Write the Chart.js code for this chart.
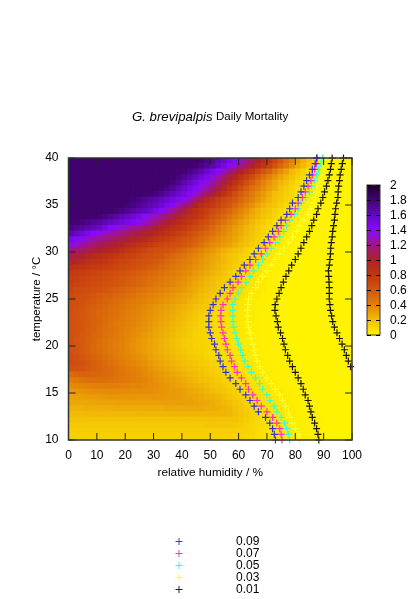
<!DOCTYPE html>
<html>
<head>
<meta charset="utf-8">
<title>G. brevipalpis Daily Mortality</title>
<script src="https://cdn.jsdelivr.net/npm/chart.js@4/dist/chart.umd.js"></script>
<style>
  html, body { margin: 0; padding: 0; background: #fff; }
  #wrap { width: 420px; height: 599px; position: relative; }
</style>
</head>
<body>
<div id="wrap"><canvas id="grafica" width="420" height="599"></canvas></div>
<script>
// heat map cell centres
const humidityCells = [1,3,5,7,9,11,13,15,17,19,21,23,25,27,29,31,33,35,37,39,41,43,45,47,49,51,53,55,57,59,61,63,65,67,69,71,73,75,77,79,81,83,85,87,89,91,93,95,97,99];
const temperatureCells = [39.7,39.1,38.5,37.9,37.3,36.7,36.1,35.5,34.9,34.3,33.7,33.1,32.5,31.9,31.3,30.7,30.1,29.5,28.9,28.3,27.7,27.1,26.5,25.9,25.3,24.7,24.1,23.5,22.9,22.3,21.7,21.1,20.5,19.9,19.3,18.7,18.1,17.5,16.9,16.3,15.7,15.1,14.5,13.9,13.3,12.7,12.1,11.5,10.9,10.3];

// mortality x100, one row per temperature, trailing zeros left out
const mortalityRows = [
[182,182,182,182,182,182,182,182,182,182,182,182,182,182,182,182,182,182,182,182,182,182,182,180,175,170,163,157,148,140,130,120,110,100,90,80,70,60,50,40,32,24,17,10,3],
[182,182,182,182,182,182,182,182,182,182,182,182,182,182,182,182,182,182,182,182,182,182,180,176,171,165,158,150,141,132,122,112,102,92,82,72,62,53,44,36,28,21,14,8,3],
[182,182,182,182,182,182,182,182,182,182,182,182,182,182,182,182,182,182,182,181,180,175,170,164,156,148,140,130,120,110,100,90,80,70,60,54,44,36,30,22,17,12,7,2],
[182,182,182,182,182,182,182,182,182,182,182,182,182,182,182,182,182,182,181,178,172,167,160,153,145,135,125,115,105,95,85,75,65,56,48,40,34,28,23,18,14,10,5,2],
[182,182,182,182,182,182,182,182,182,182,182,182,182,182,182,182,182,181,177,172,165,158,150,143,135,125,115,105,95,85,75,65,56,48,40,34,29,23,19,14,10,6,3,1],
[182,182,182,182,182,182,182,182,182,182,182,182,182,182,182,182,180,175,170,163,157,150,143,135,125,115,105,95,85,75,65,56,48,42,36,31,26,20,16,12,8,5,3,1],
[182,182,182,182,182,182,182,182,182,182,182,182,182,182,181,178,173,168,162,156,150,143,135,125,115,105,95,85,75,65,57,50,43,37,32,26,20,17,14,10,7,4,2,1],
[182,182,182,182,182,182,182,182,182,182,182,180,176,172,168,164,160,155,150,145,138,128,115,103,92,84,76,70,64,59,53,46,40,34,29,24,19,16,12,9,5,3,2,1],
[182,182,182,182,182,182,182,182,182,182,180,176,172,167,163,160,153,146,138,128,120,110,100,91,84,78,72,65,60,53,46,40,35,29,24,20,17,13,10,6,4,3,2,1],
[182,182,182,182,182,182,182,182,180,176,172,168,164,160,156,148,140,132,123,115,105,96,86,80,74,68,62,57,52,46,40,35,29,24,20,17,13,10,7,4,3,2,1],
[182,182,182,182,182,180,176,171,167,163,158,153,148,140,134,128,122,115,108,100,94,88,82,76,70,63,57,52,46,40,36,31,26,22,18,15,12,8,5,3,2,1],
[181,180,177,174,171,168,164,160,156,152,148,143,138,131,124,117,110,103,97,91,85,80,74,68,63,57,51,46,40,36,31,27,22,18,15,11,9,6,4,3,2,1],
[175,172,169,165,162,158,150,141,137,132,127,122,119,113,107,102,97,92,87,82,78,73,68,63,58,52,46,40,36,32,28,23,20,16,12,10,7,5,3,2,1],
[165,159,153,147,141,136,131,126,122,119,115,110,106,102,99,94,89,84,80,75,71,66,61,56,52,47,42,38,34,30,26,22,18,14,11,9,6,4,3,2,1],
[147,143,138,132,127,122,118,114,111,107,103,100,96,92,88,83,79,75,71,67,63,60,56,52,47,42,38,35,32,28,24,20,17,13,10,8,5,4,2,1],
[137,130,124,119,114,111,108,104,101,98,93,89,84,80,76,73,70,67,65,62,60,57,53,47,42,38,35,32,29,25,21,18,15,11,9,7,4,3,2,1],
[120,116,112,108,104,101,98,95,91,87,82,78,74,71,68,65,63,61,59,55,51,47,44,40,36,33,29,25,22,19,17,13,10,8,5,4,3,2,1],
[108,103,100,96,92,89,86,82,79,76,73,71,68,65,63,61,60,56,52,49,46,42,39,36,32,29,26,22,19,16,14,11,9,7,5,3,2,1],
[98,95,92,88,85,82,80,77,74,71,69,66,64,62,60,58,56,52,49,46,43,40,37,34,31,28,25,22,18,15,13,10,8,6,4,3,2,1],
[87,85,82,80,78,76,74,72,70,68,66,64,62,60,58,55,52,49,46,43,40,38,35,32,29,26,23,20,17,14,11,9,7,5,3,3,2,1],
[79,77,75,73,71,70,68,66,64,62,60,58,56,54,52,50,47,45,43,40,38,36,33,30,27,24,21,18,15,12,10,8,6,5,3,2,1],
[76,74,72,70,68,67,65,63,61,59,57,55,53,51,49,47,44,42,40,38,36,33,30,27,24,21,18,16,13,11,9,7,6,4,3,2,1],
[74,72,70,68,66,65,63,61,60,58,56,54,52,50,48,45,43,41,39,36,34,31,28,25,22,20,17,15,12,10,8,7,5,4,3,2,1],
[70,68,66,65,63,61,60,58,56,54,52,50,48,46,44,42,40,38,36,34,32,29,26,23,21,18,16,13,11,9,8,6,5,4,3,2,1],
[67,65,63,62,60,58,56,55,53,51,49,47,45,43,41,39,37,35,33,31,29,27,24,21,19,16,14,12,10,8,7,5,4,3,2,2,1],
[65,64,62,60,58,56,54,52,50,48,46,44,42,41,39,37,35,33,31,29,27,24,22,19,17,14,12,10,9,7,5,4,3,2,2,1,1],
[64,62,60,58,56,54,52,50,48,46,44,42,40,38,36,34,32,30,28,26,24,22,19,17,15,12,10,9,7,6,5,4,3,2,2,1,1],
[63,61,59,57,55,53,51,49,47,45,43,41,39,37,35,33,31,29,27,25,22,20,18,15,13,11,9,8,7,5,4,3,3,2,1,1],
[63,61,59,57,55,53,50,48,46,44,42,40,38,36,34,32,30,28,25,23,21,18,16,14,12,10,9,8,6,5,4,3,3,2,1,1],
[63,61,59,57,54,52,50,47,45,43,41,39,37,35,33,31,28,26,24,22,19,17,15,13,11,10,9,7,6,5,4,3,2,2,1,1],
[63,61,59,56,54,51,49,47,45,42,40,38,36,34,32,29,27,25,23,20,18,16,14,12,11,10,8,7,6,5,4,3,2,2,1,1],
[63,61,58,56,53,51,48,46,44,41,39,37,35,32,30,28,26,24,21,19,17,15,13,12,11,9,8,7,6,5,4,3,2,2,1,1],
[63,60,58,55,53,50,47,45,43,41,38,36,34,31,29,27,25,23,20,18,16,14,13,12,11,9,8,7,6,5,4,3,2,2,1,1,1],
[63,60,58,55,52,49,47,44,42,40,38,35,33,31,29,27,24,22,20,18,16,15,13,12,11,10,8,7,6,5,4,3,3,2,2,1,1,1],
[64,61,58,55,52,50,47,45,43,40,38,36,33,31,29,27,25,23,21,19,17,15,14,13,11,10,9,8,6,5,4,4,3,2,2,1,1,1],
[65,63,60,57,54,51,49,46,44,41,39,37,35,33,30,28,26,24,22,20,19,17,15,14,12,11,10,8,7,6,5,4,3,3,2,1,1,1,1],
[66,64,62,59,56,54,51,48,46,43,41,39,37,35,32,30,28,26,24,22,20,19,17,15,14,12,11,9,8,7,6,5,4,3,2,2,1,1,1],
[62,62,60,58,56,54,52,50,48,45,43,41,39,37,34,32,30,28,26,24,22,20,19,17,15,14,12,10,9,8,6,5,4,3,3,2,2,1,1,1],
[50,52,54,54,53,52,51,50,48,46,44,42,40,38,36,34,32,30,28,26,24,22,21,19,17,15,14,12,10,9,7,6,5,4,3,3,2,2,1,1,1],
[42,44,46,47,48,48,48,47,46,45,44,42,41,39,37,35,33,31,30,28,26,24,22,20,19,17,15,13,12,10,8,7,6,5,4,3,2,2,1,1,1],
[37,38,39,40,41,42,42,42,42,41,40,39,39,38,37,36,34,33,31,29,28,26,24,23,21,19,17,15,13,11,9,8,7,6,5,4,3,2,2,1,1,1],
[32,33,34,35,36,36,37,37,37,37,37,36,36,36,36,35,34,33,32,31,30,28,27,25,23,21,19,17,15,13,11,9,8,7,5,4,3,3,2,2,1,1],
[29,30,30,31,31,32,32,33,33,33,33,33,33,33,33,33,33,32,32,31,30,29,28,27,25,24,22,20,17,15,13,11,9,8,6,5,4,3,3,2,1,1,1],
[27,27,28,28,28,29,29,29,29,30,30,30,30,30,30,30,30,30,30,30,30,30,29,28,27,26,24,22,20,17,15,12,10,8,7,6,4,3,3,2,2,1,1],
[24,24,24,25,25,25,25,25,26,26,26,26,26,26,26,26,26,27,27,27,27,27,27,27,26,26,25,24,22,19,17,14,11,9,8,6,5,4,3,3,2,1,1,1],
[21,21,21,22,22,22,22,22,22,22,22,22,23,23,23,23,23,23,23,23,23,23,23,23,23,23,23,23,22,20,18,15,12,10,8,7,5,4,3,3,2,2,1,1],
[18,18,18,18,18,18,18,18,18,18,18,18,18,18,18,18,18,18,18,18,18,18,18,19,19,19,19,19,19,18,17,14,12,10,8,7,5,4,3,3,2,2,1,1,1],
[16,16,16,16,16,16,16,16,16,16,16,16,16,16,16,16,16,16,16,16,16,16,16,16,17,17,17,17,17,16,15,13,11,9,8,6,5,4,3,3,2,2,1,1,1],
[14,14,14,14,14,14,14,14,14,14,14,14,14,14,14,14,14,14,14,14,14,14,14,14,14,14,14,14,14,14,13,12,11,9,7,6,5,4,3,3,2,2,1,1,1],
[13,13,13,13,13,13,13,13,13,13,13,13,13,13,13,13,13,13,13,13,13,13,13,13,13,13,13,13,13,12,12,11,10,8,7,6,5,4,3,3,2,2,1,1,1]
];

// contour crossings, one humidity per temperature in contourTemps
const contourTemps = [10,10.6,11.2,11.8,12.4,13,13.6,14.2,14.8,15.4,16,16.6,17.2,17.8,18.4,19,19.6,20.2,20.8,21.4,22,22.6,23.2,23.8,24.4,25,25.6,26.2,26.8,27.4,28,28.6,29.2,29.8,30.4,31,31.6,32.2,32.8,33.4,34,34.6,35.2,35.8,36.4,37,37.6,38.2,38.8,39.4,40];
const contour09 = [73,72.6,72,71,69.5,67,65.5,64,62.5,60.5,59,57,55.5,54.5,53.5,53,52,51.5,50.5,50,49.5,49.5,49.5,50,51,52,53.5,55,57,59,60.5,62,64,65.5,67,69,70.5,72,73.5,75,77,78,79,81,82,83,84,85,86,87,87.5];
const contour07 = [75.3,75,74.5,73.5,72,70,68,66.5,65,63.5,62.5,61,59.5,58.5,57.5,57,56,55.5,55,54.5,54,53.8,53.7,53.8,54.5,56,57,58,59.8,61,62.5,64,66,68,69.5,71,72.5,74,75,76.5,78.5,80,81,82.5,83.5,84.5,85.5,86,86.8,87.4,87.8];
const contour05 = [78,77.5,77,76.2,75,73.5,72.5,71,70,68.5,67.4,66,64.5,63.3,62.2,61.5,60.7,60,59.3,58.8,58.3,58,58,58,58,58.8,59.8,61,62.6,64,65.3,67,68.5,70,71.5,73,74.5,75.9,77,78,79.8,81,82,83.7,85,85.8,86.7,87.5,88.2,89,89.6];
const contour03 = [81.5,81,80,79,78,77.5,76.5,75.5,74.5,73,71.5,70,68.5,67.5,66.5,66,65.5,65,64.5,64,63.5,63.3,63.2,63.2,63.3,63.5,64.5,66,67,68.5,70,71.5,73,74.5,76,77.5,79,80.5,81.5,83,84.5,85.5,86.5,87,87.5,88,88.5,89,89.3,89.7,90];
const contour01a = [88.3,88,87.5,86.8,86,85.5,85,84.5,83.5,82.8,82,81,80,79,78,77.3,76.5,76,75.5,74.8,74,73.7,73.2,72.8,72.9,73.5,74.3,75,75.8,76.7,77.7,78.7,80,81,82,83,84,85,85.8,86.5,87.5,88,89,89.7,90.3,91,91.5,92,92.4,92.7,93];
const contour01b = [null,null,null,null,null,null,null,null,null,null,null,null,null,99.5,98.7,98,97.3,96.5,95.6,94.7,93.8,93.2,92.8,92.4,92.2,92,92,92,91.9,91.8,91.7,92,92.2,92.4,92.5,92.7,93,93.2,93.5,93.8,94,94.2,94.6,95,95.1,95.3,95.6,95.8,96.2,96.6,97];

const humidityTicks = [0,10,20,30,40,50,60,70,80,90,100];
const temperatureTicks = [10,15,20,25,30,35,40];
const paletteTicks = [0,0.2,0.4,0.6,0.8,1,1.2,1.4,1.6,1.8,2];
const paletteStops = [[255,243,0],[243,190,6],[227,130,8],[211,85,14],[194,54,16],[174,34,40],[158,20,135],[135,10,255],[100,8,190],[68,2,116],[28,0,40]];
const legendLabels = ['0.09','0.07','0.05','0.03','0.01'];
const legendColors = ['#3c3ce0','#ff30d0','#30ffe0','#ffff30','#222222'];

function colorFor(v) {
    const p = Math.max(0, Math.min(9.999, v / 0.2));
    const i = Math.floor(p), f = p - i;
    const c = paletteStops[i].map((a, k) => Math.round(a + (paletteStops[i + 1][k] - a) * f));
    return `rgb(${c[0]},${c[1]},${c[2]})`;
}

const heatPoints = [];
const heatColors = [];
temperatureCells.forEach((t, r) => {
    humidityCells.forEach((h, c) => {
        heatPoints.push({x: h, y: t});
        heatColors.push(colorFor((mortalityRows[r][c] || 0) / 100));
    });
});

function contourSet(label, xs, color) {
    return {
        label: label,
        data: xs.map((x, i) => ({x: x, y: contourTemps[i]})).filter(p => p.x !== null),
        pointStyle: 'cross',
        pointRadius: 3.5,
        pointBorderWidth: 1.2,
        pointBorderColor: color,
        pointBackgroundColor: color,
        showLine: false,
        clip: false,
        order: 1
    };
}

// gnuplot look: inward ticks on all four sides, frame, title, colour box, key
const decoracion = {
    id: 'decoracion',
    afterDraw(chart) {
        const ctx = chart.ctx, a = chart.chartArea, sx = chart.scales.x, sy = chart.scales.y;
        ctx.save();
        ctx.strokeStyle = '#222';
        ctx.lineWidth = 1;
        ctx.beginPath();
        humidityTicks.forEach(v => {
            const px = sx.getPixelForValue(v);
            ctx.moveTo(px, a.bottom); ctx.lineTo(px, a.bottom - 7);
            ctx.moveTo(px, a.top); ctx.lineTo(px, a.top + 7);
        });
        temperatureTicks.forEach(v => {
            const py = sy.getPixelForValue(v);
            ctx.moveTo(a.left, py); ctx.lineTo(a.left + 7, py);
            ctx.moveTo(a.right, py); ctx.lineTo(a.right - 7, py);
        });
        ctx.stroke();
        ctx.strokeStyle = '#333';
        ctx.lineWidth = 1.5;
        ctx.strokeRect(a.left, a.top, a.right - a.left, a.bottom - a.top);

        // title
        ctx.fillStyle = '#000';
        ctx.textBaseline = 'middle';
        ctx.textAlign = 'left';
        ctx.font = 'italic 13.2px "Liberation Sans"';
        ctx.fillText('G. brevipalpis', 132, 117);
        ctx.font = '11.5px "Liberation Sans"';
        ctx.fillText('Daily Mortality', 216, 117);

        // colour box
        const boxL = 367, boxR = 380, boxT = 185, boxB = 335;
        for (let y = boxT; y < boxB; y++) {
            ctx.fillStyle = colorFor((boxB - y - 0.5) / (boxB - boxT) * 2);
            ctx.fillRect(boxL, y, boxR - boxL, 1);
        }
        ctx.strokeStyle = '#333';
        ctx.lineWidth = 1;
        ctx.strokeRect(boxL, boxT, boxR - boxL, boxB - boxT);
        ctx.strokeStyle = '#000';
        ctx.fillStyle = '#000';
        ctx.font = '12px "Liberation Sans"';
        ctx.beginPath();
        paletteTicks.forEach(v => {
            const y = Math.round(boxB - v / 2 * (boxB - boxT)) + 0.5;
            ctx.moveTo(boxL, y); ctx.lineTo(boxL + 4, y);
            ctx.moveTo(boxR, y); ctx.lineTo(boxR - 4, y);
            ctx.fillText(String(v), 390, y);
        });
        ctx.stroke();

        // key
        legendLabels.forEach((txt, i) => {
            const y = 541.5 + i * 12;
            ctx.strokeStyle = legendColors[i];
            ctx.beginPath();
            ctx.moveTo(175.5, y); ctx.lineTo(182.5, y);
            ctx.moveTo(179, y - 3.5); ctx.lineTo(179, y + 3.5);
            ctx.stroke();
            ctx.fillStyle = '#000';
            ctx.fillText(txt, 236, y);
        });
        ctx.restore();
    }
};

document.addEventListener('DOMContentLoaded', function() {
    const ctx = document.getElementById('grafica').getContext('2d');
    new Chart(ctx, {
        type: 'scatter',
        data: {
            datasets: [
                contourSet('0.09', contour09, '#3232dc'),
                contourSet('0.07', contour07, '#ff30c8'),
                contourSet('0.05', contour05, '#30ffd8'),
                contourSet('0.03', contour03, '#ffff30'),
                contourSet('0.01', contour01a, '#1a1a00'),
                contourSet('0.01', contour01b, '#1a1a00'),
                {
                    label: 'mortalidad',
                    data: heatPoints,
                    pointStyle: 'rect',
                    pointRadius: 5,
                    pointBorderWidth: 0,
                    pointBackgroundColor: heatColors,
                    order: 10
                }
            ]
        },
        options: {
            responsive: false,
            animation: false,
            events: [],
            layout: { padding: { left: 0, top: 158, right: 68, bottom: 119 } },
            plugins: { legend: { display: false }, tooltip: { enabled: false }, title: { display: false } },
            scales: {
                x: {
                    type: 'linear', min: 0, max: 100,
                    afterBuildTicks(s) { s.ticks = humidityTicks.map(v => ({value: v})); },
                    afterFit(s) { s.height = 40; },
                    grid: { display: false, drawTicks: false },
                    border: { display: false },
                    ticks: { color: '#000', font: { family: 'Liberation Sans', size: 12 }, padding: 8, maxRotation: 0 },
                    title: { display: true, text: 'relative humidity / %', color: '#000', font: { family: 'Liberation Sans', size: 11.8 }, padding: 0 }
                },
                y: {
                    type: 'linear', min: 10, max: 40,
                    afterBuildTicks(s) { s.ticks = temperatureTicks.map(v => ({value: v})); },
                    afterFit(s) { s.width = 68.5; },
                    grid: { display: false, drawTicks: false },
                    border: { display: false },
                    ticks: { color: '#000', font: { family: 'Liberation Sans', size: 12 }, padding: 10 },
                    title: { display: true, text: 'temperature / °C', color: '#000', font: { family: 'Liberation Sans', size: 11.5 }, padding: { top: 30, bottom: 0 } }
                }
            }
        },
        plugins: [decoracion]
    });
});
</script>
</body>
</html>
